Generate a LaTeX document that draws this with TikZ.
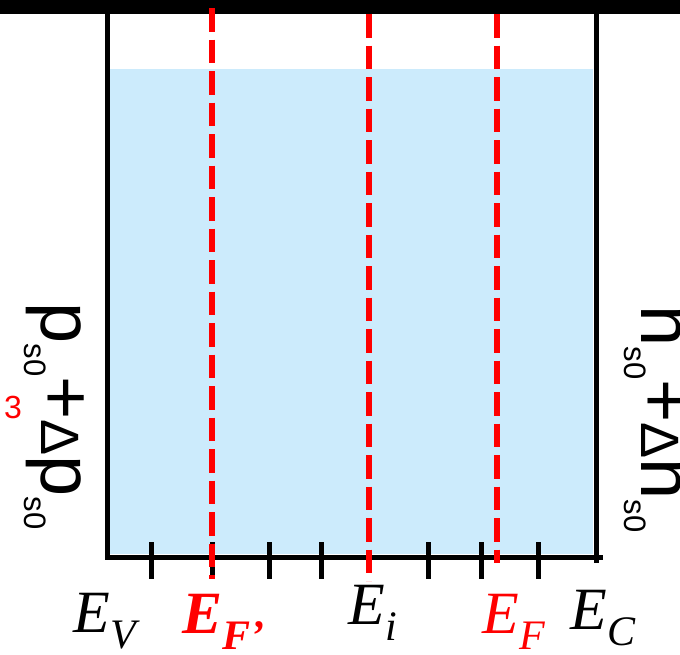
\documentclass[tikz,border=0pt]{standalone}
\usepackage{fontspec}
\setmainfont{Liberation Serif}
\newfontfamily\arialfont{Liberation Sans}
\usetikzlibrary{positioning}
\usepackage{xcolor}
\definecolor{bandblue}{RGB}{204,235,252}
\definecolor{fermired}{RGB}{255,0,0}

\newcommand{\lvl}[1]{\textit{E}\raisebox{-8pt}{\fontsize{21}{21}\selectfont\textit{#1}}}
\newcommand{\lowidx}[1]{\raisebox{-8.5pt}{\fontsize{15.5}{15.5}\selectfont #1}}
\newcommand{\dlt}{{\fontsize{27}{27}\selectfont Δ}}

\begin{document}
\begin{tikzpicture}[
  x=0.5pt, y=-0.5pt,
  frame/.style={line width=2.5pt},
  ticmark/.style={line width=2.5pt},
  fermi/.style={draw=fermired, line width=3pt, dash pattern=on 11.75pt off 4pt},
  level/.style={font=\fontsize{30}{36}\selectfont, inner sep=0pt, anchor=base west},
  carrier/.style={font=\arialfont\fontsize{37}{40}\selectfont, inner sep=0pt, rotate=-90, anchor=base}
]
\useasboundingbox (0,0) rectangle (680,654);

% band and frame
\fill[bandblue] (110,69) rectangle (593,554);
\fill (0,0) rectangle (680,14);

\coordinate (tl) at (107,14);
\coordinate (bl) at (107,557);
\coordinate (br) at (603,557);
\coordinate (tr) at (596,14);
\coordinate (rb) at (596,563);

\draw[frame] (tl) -- (bl) -- (br);
\draw[frame] (tr) -- (rb);

\foreach \x in {151,212,269,321,428,481,538}
  \draw[ticmark] (\x,542) -- (\x,579);

% fermi levels
\foreach \x/\ya/\yb in {212/8/579, 369/14/581, 497/14/563}
  \draw[fermi] (\x,\ya) -- (\x,\yb);

% energy labels
\node[level] (ev) at (73,632) {\lvl{V}};
\node[level, text=fermired] (efp) at (182,633) {\bfseries\lvl{F’}};
\node[level] (ei) at (348,624) {\lvl{i}};
\node[level, text=fermired] (ef) at (482,633) {\lvl{F}};
\node[level] (ec) at (570,629) {\lvl{C}};

% carrier densities
\node[carrier] (holes) at (41,416) {p\lowidx{s0}+\dlt p\lowidx{s0}};
\node[carrier] (elec) at (641,419) {n\lowidx{s0}+\dlt n\lowidx{s0}};
\node[font=\arialfont\fontsize{16}{16}\selectfont, text=fermired, inner sep=0pt] (mark) at (13,407) {3};

\end{tikzpicture}
\end{document}
